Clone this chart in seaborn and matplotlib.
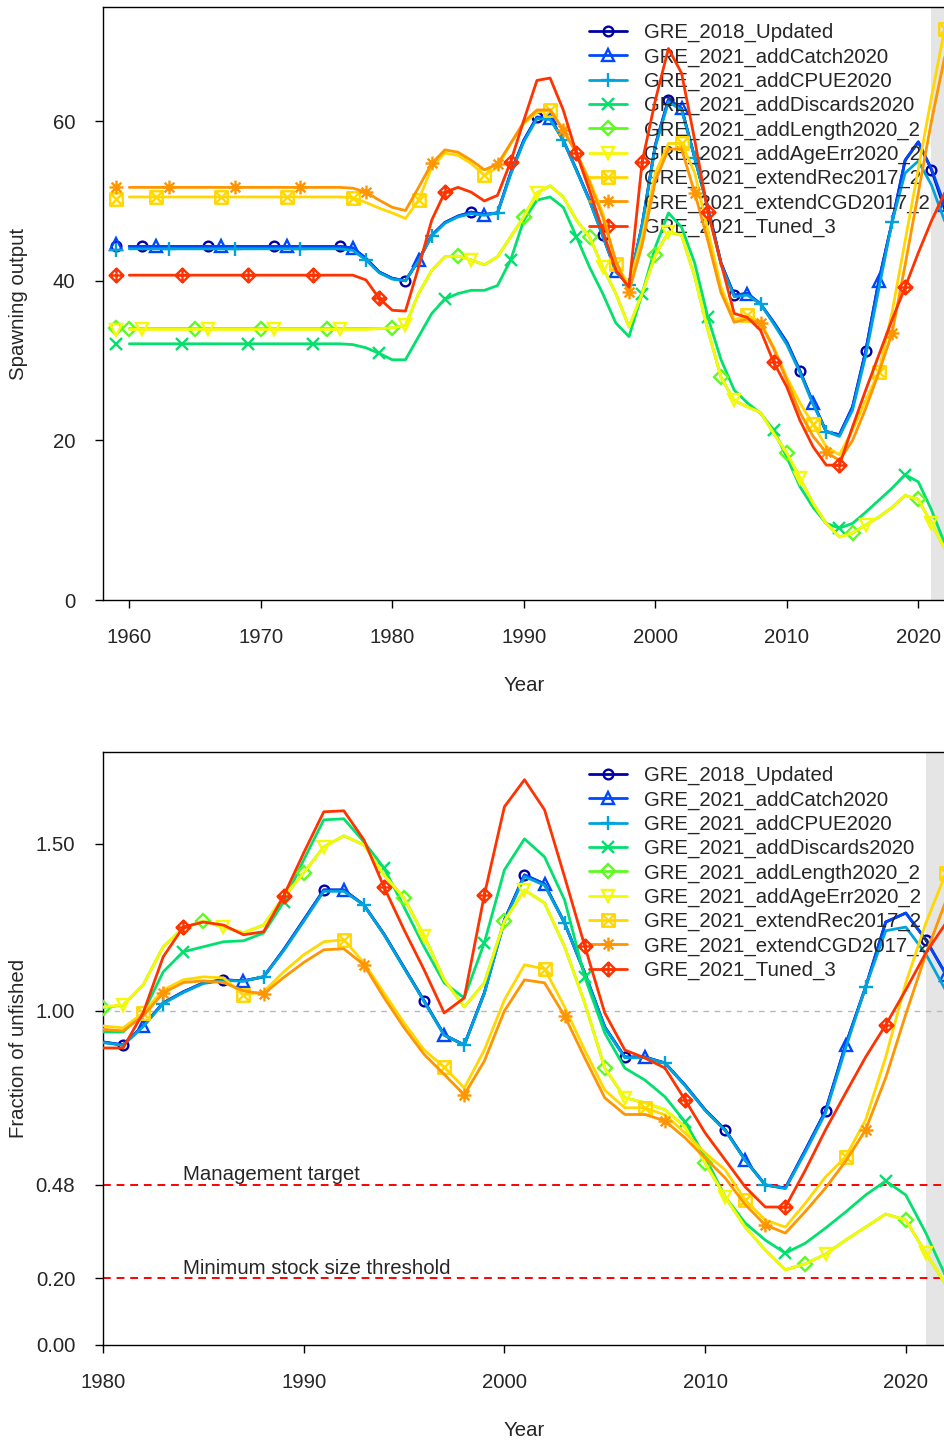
import numpy as np
import pandas as pd
import matplotlib
matplotlib.use("Agg")
import matplotlib.pyplot as plt
from matplotlib.path import Path
import seaborn as sns

models = ["GRE_2018_Updated", "GRE_2021_addCatch2020", "GRE_2021_addCPUE2020",
          "GRE_2021_addDiscards2020", "GRE_2021_addLength2020_2", "GRE_2021_addAgeErr2020_2",
          "GRE_2021_extendRec2017_2", "GRE_2021_extendCGD2017_2", "GRE_2021_Tuned_3"]
# rich.colors.short(10)[-1]
colors = ["#0000A6", "#0049FB", "#00A4DB", "#03E06E", "#5DFC20",
          "#F6F905", "#FFD701", "#FF9500", "#FF3300"]

ssb_years = list(range(1960, 2023))
virgin_year = 1959
ssb_virgin = [44.4, 44.6, 43.9, 32.1, 34.1, 33.8, 50.3, 51.7, 40.7]

ssb_updated = [44.3] * 17 + [
    44.1, 42.8, 41.1, 40.3, 40.0, 42.6, 45.7, 47.3, 48.1, 48.6, 48.3, 48.5, 53.5,
    57.6, 60.5, 60.4, 57.6, 53.9, 50.1, 45.7, 41.2, 39.4, 47.0,
    57.0, 62.7, 61.6, 55.4, 49.2, 42.2, 38.2, 38.4, 37.1, 34.8,
    32.3, 28.7, 24.7, 21.1, 20.7, 24.2, 31.2, 40.0, 47.3, 55.1,
    57.4, 53.9, 49.0]
ssb_addcatch = [44.3] * 17 + [
    44.1, 42.8, 41.1, 40.3, 40.0, 42.6, 45.7, 47.3, 48.1, 48.6, 48.3, 48.5, 53.5,
    57.6, 60.5, 60.4, 57.6, 53.9, 50.1, 45.7, 41.2, 39.4, 47.0,
    57.0, 62.7, 61.6, 55.4, 49.2, 42.2, 38.2, 38.4, 37.1, 34.8,
    32.3, 28.7, 24.7, 21.1, 20.7, 24.2, 31.2, 40.0, 47.3, 55.1,
    57.4, 54.0, 49.5]
ssb_addcpue = [44.0] * 17 + [
    43.8, 42.6, 41.0, 40.2, 40.0, 42.5, 45.6, 47.2, 48.0, 48.4, 48.2, 48.5, 53.3,
    57.4, 60.3, 60.2, 57.6, 53.8, 50.0, 45.6, 41.1, 39.5, 47.0,
    56.8, 62.4, 61.4, 55.4, 49.0, 42.0, 38.0, 38.2, 37.1, 34.6,
    32.0, 28.5, 24.5, 21.1, 20.5, 23.8, 30.6, 39.0, 47.3, 53.5,
    55.0, 52.0, 47.5]
ssb_adddiscards = [32.1] * 17 + [
    32.0, 31.6, 30.9, 30.1, 30.1, 33.0, 35.9, 37.7, 38.4, 38.8, 38.8, 39.4, 42.6,
    47.6, 50.1, 50.5, 49.2, 45.5, 41.7, 38.4, 34.7, 33.0, 38.4,
    44.2, 48.5, 46.7, 42.2, 35.4, 30.1, 26.3, 24.7, 23.4, 21.3,
    17.9, 14.2, 11.6, 9.6, 9.0, 9.6, 11.0, 12.5, 14.0, 15.7,
    14.8, 11.3, 7.1]
# addLength sits under the addAgeErr line in the picture
ssb_addlength = [34.0] * 17 + [
    34.0, 34.0, 34.0, 34.1, 34.4, 38.4, 41.3, 43.0, 43.1, 42.6, 42.0, 43.0, 45.5,
    48.0, 51.0, 51.9, 50.5, 47.6, 45.5, 41.7, 38.4, 34.2, 38.4,
    43.2, 46.1, 45.7, 40.5, 33.8, 27.9, 25.0, 24.2, 23.5, 20.9,
    18.4, 15.3, 12.1, 9.6, 7.9, 8.4, 9.4, 10.4, 11.6, 13.1,
    12.6, 9.6, 6.5]
ssb_addageerr = [33.9] * 17 + [
    33.9, 33.9, 34.0, 34.1, 34.4, 38.4, 41.3, 43.0, 43.1, 42.6, 42.0, 43.0, 45.5,
    48.0, 51.0, 51.9, 50.5, 47.6, 45.5, 41.7, 38.4, 34.2, 38.4,
    43.2, 46.1, 45.7, 40.5, 33.8, 27.9, 25.0, 24.2, 23.5, 20.9,
    18.4, 15.3, 12.1, 9.6, 7.9, 8.4, 9.4, 10.4, 11.6, 13.1,
    12.6, 9.6, 6.5]
ssb_extendrec = [50.5] * 17 + [
    50.4, 49.8, 49.1, 48.5, 47.8, 50.1, 54.2, 56.0, 55.7, 54.7, 53.2, 54.2, 57.2,
    59.7, 61.1, 61.4, 58.9, 56.0, 52.6, 48.5, 42.1, 39.5, 45.5,
    53.5, 57.2, 57.2, 53.5, 46.3, 39.2, 35.1, 35.7, 34.8, 31.7,
    27.9, 24.7, 22.0, 19.2, 18.2, 21.3, 25.0, 28.6, 36.0, 45.0,
    54.0, 63.0, 71.5]
ssb_extendcgd = [51.7] * 17 + [
    51.6, 51.1, 50.1, 49.2, 48.8, 51.7, 54.7, 56.4, 56.1, 55.1, 53.9, 54.6, 57.2,
    59.9, 61.4, 61.4, 58.9, 56.0, 52.3, 48.0, 42.5, 38.6, 44.5,
    52.5, 56.5, 56.5, 51.0, 45.0, 38.5, 34.8, 35.2, 34.7, 31.5,
    27.5, 23.5, 20.5, 18.5, 17.5, 20.0, 24.0, 28.5, 33.4, 42.0,
    51.0, 60.0, 68.0]
ssb_tuned = [40.7] * 17 + [
    40.7, 40.1, 37.8, 36.3, 36.2, 41.7, 47.6, 51.1, 51.7, 51.1, 50.0, 50.7, 54.9,
    60.1, 65.1, 65.4, 61.4, 56.0, 51.3, 46.3, 41.3, 39.2, 54.9,
    62.6, 69.1, 66.0, 57.6, 48.6, 42.2, 35.9, 35.4, 33.8, 29.8,
    26.7, 22.5, 19.2, 16.9, 16.9, 21.7, 26.3, 30.7, 35.1, 39.2,
    43.5, 47.5, 51.0]

bratio_years = list(range(1980, 2023))
br_updated = [0.907, 0.898, 0.955, 1.024, 1.057, 1.084, 1.093, 1.090, 1.102, 1.183,
              1.272, 1.362, 1.362, 1.317, 1.230, 1.130, 1.030, 0.928, 0.898, 1.054,
              1.272, 1.407, 1.380, 1.263, 1.114, 0.952, 0.862, 0.862, 0.844, 0.778,
              0.704, 0.644, 0.554, 0.479, 0.470, 0.584, 0.701, 0.898, 1.072, 1.266,
              1.293, 1.213, 1.110]
br_addcatch = [0.907, 0.898, 0.955, 1.024, 1.057, 1.084, 1.093, 1.090, 1.102, 1.183,
               1.272, 1.362, 1.362, 1.317, 1.230, 1.130, 1.030, 0.928, 0.898, 1.054,
               1.272, 1.407, 1.380, 1.263, 1.114, 0.952, 0.862, 0.862, 0.844, 0.778,
               0.704, 0.644, 0.554, 0.479, 0.470, 0.584, 0.701, 0.898, 1.072, 1.266,
               1.293, 1.213, 1.108]
br_addcpue = [0.905, 0.897, 0.953, 1.022, 1.055, 1.082, 1.091, 1.089, 1.102, 1.180,
              1.268, 1.358, 1.358, 1.317, 1.228, 1.128, 1.028, 0.927, 0.898, 1.052,
              1.268, 1.402, 1.376, 1.263, 1.112, 0.950, 0.860, 0.860, 0.844, 0.776,
              0.702, 0.642, 0.552, 0.479, 0.468, 0.578, 0.694, 0.888, 1.072, 1.240,
              1.251, 1.170, 1.060]
br_adddiscards = [0.937, 0.937, 0.994, 1.117, 1.177, 1.192, 1.207, 1.210, 1.233, 1.326,
                  1.452, 1.572, 1.575, 1.506, 1.428, 1.311, 1.192, 1.084, 1.039, 1.204,
                  1.422, 1.515, 1.461, 1.332, 1.102, 0.934, 0.829, 0.793, 0.743, 0.668,
                  0.563, 0.443, 0.365, 0.314, 0.275, 0.305, 0.350, 0.398, 0.449, 0.491,
                  0.449, 0.335, 0.204]
br_addlength = [1.010, 1.017, 1.078, 1.192, 1.248, 1.269, 1.251, 1.234, 1.257, 1.341,
                1.413, 1.491, 1.524, 1.497, 1.407, 1.338, 1.225, 1.093, 1.012, 1.084,
                1.269, 1.362, 1.323, 1.192, 1.024, 0.829, 0.740, 0.725, 0.704, 0.653,
                0.545, 0.443, 0.353, 0.284, 0.225, 0.243, 0.272, 0.314, 0.353, 0.392,
                0.374, 0.275, 0.180]
br_addageerr = [1.012, 1.018, 1.078, 1.192, 1.248, 1.269, 1.251, 1.234, 1.257, 1.341,
                1.413, 1.491, 1.524, 1.497, 1.407, 1.338, 1.225, 1.093, 1.012, 1.084,
                1.269, 1.362, 1.323, 1.192, 1.024, 0.829, 0.740, 0.725, 0.704, 0.653,
                0.545, 0.443, 0.353, 0.284, 0.225, 0.243, 0.272, 0.314, 0.353, 0.392,
                0.374, 0.275, 0.180]
br_extendrec = [0.955, 0.949, 0.994, 1.063, 1.093, 1.102, 1.099, 1.048, 1.057, 1.117,
                1.168, 1.207, 1.213, 1.144, 1.054, 0.964, 0.883, 0.832, 0.769, 0.883,
                1.033, 1.138, 1.126, 1.012, 0.883, 0.763, 0.710, 0.710, 0.689, 0.635,
                0.575, 0.524, 0.434, 0.374, 0.353, 0.425, 0.503, 0.563, 0.674, 0.862,
                1.084, 1.263, 1.413]
br_extendcgd = [0.945, 0.940, 0.985, 1.054, 1.085, 1.090, 1.085, 1.060, 1.051, 1.100,
                1.145, 1.183, 1.186, 1.138, 1.040, 0.950, 0.870, 0.810, 0.749, 0.850,
                1.000, 1.093, 1.084, 0.985, 0.860, 0.740, 0.690, 0.690, 0.671, 0.620,
                0.560, 0.500, 0.420, 0.359, 0.335, 0.400, 0.470, 0.550, 0.644, 0.800,
                0.990, 1.170, 1.330]
br_tuned = [0.889, 0.889, 0.994, 1.162, 1.251, 1.266, 1.257, 1.228, 1.237, 1.344,
            1.473, 1.596, 1.599, 1.512, 1.371, 1.243, 1.123, 0.994, 1.039, 1.347,
            1.611, 1.692, 1.602, 1.401, 1.195, 0.994, 0.883, 0.859, 0.829, 0.734,
            0.635, 0.554, 0.473, 0.413, 0.413, 0.524, 0.644, 0.754, 0.862, 0.958,
            1.063, 1.174, 1.263]

ssb_all = [ssb_updated, ssb_addcatch, ssb_addcpue, ssb_adddiscards, ssb_addlength,
           ssb_addageerr, ssb_extendrec, ssb_extendcgd, ssb_tuned]
br_all = [br_updated, br_addcatch, br_addcpue, br_adddiscards, br_addlength,
          br_addageerr, br_extendrec, br_extendcgd, br_tuned]

ssb_df = pd.concat([pd.DataFrame({"model": m, "year": ssb_years, "value": v})
                    for m, v in zip(models, ssb_all)])
br_df = pd.concat([pd.DataFrame({"model": m, "year": bratio_years, "value": v})
                   for m, v in zip(models, br_all)])

# R pch 1..9
M, L, C = Path.MOVETO, Path.LINETO, Path.CLOSEPOLY
box_x = Path([(-1, -1), (1, -1), (1, 1), (-1, 1), (-1, -1), (-1, -1), (1, 1), (-1, 1), (1, -1)],
             [M, L, L, L, C, M, L, M, L])
star8 = Path([(-1, 0), (1, 0), (0, -1), (0, 1), (-.7, -.7), (.7, .7), (-.7, .7), (.7, -.7)],
             [M, L, M, L, M, L, M, L])
diam_plus = Path([(0, -1), (1, 0), (0, 1), (-1, 0), (0, -1), (0, -1), (0, 1), (-1, 0), (1, 0)],
                 [M, L, L, L, C, M, L, M, L])
markers = ["o", "^", "+", "x", "D", "v", box_x, star8, diam_plus]
msizes = [7, 8.5, 10, 8, 7.5, 8.5, 9, 10, 10]

sns.set_style("ticks")
plt.rcParams["font.family"] = ["Liberation Sans", "DejaVu Sans"]
plt.rcParams["font.size"] = 14.7

fig = plt.figure(figsize=(9.44, 14.46), dpi=100)
W, H = 944, 1446
ax1 = fig.add_axes([103 / W, 1 - 600 / H, 843 / W, 593 / H])
ax2 = fig.add_axes([103 / W, 1 - 1345 / H, 843 / W, 593 / H])


def draw(ax, df, years):
    ax.axvspan(2021, 2030, color="black", alpha=0.1, lw=0, zorder=0)
    for i, name in enumerate(models):
        d = df[df.model == name]
        every = [k for k, yr in enumerate(years) if yr % 5 == (i + 1) % 5]
        sns.lineplot(data=d, x="year", y="value", ax=ax, color=colors[i], lw=2,
                     marker=markers[i], markevery=every, ms=msizes[i],
                     mfc="none", markeredgecolor=colors[i], markeredgewidth=1.7,
                     label=name, errorbar=None, zorder=3 + i)
    handles = ax.get_lines()[-len(models):]
    return handles


h1 = draw(ax1, ssb_df, ssb_years)
for i in range(len(models)):
    sns.lineplot(x=[virgin_year], y=[ssb_virgin[i]], ax=ax1, color=colors[i],
                 marker=markers[i], ms=msizes[i], mfc="none", markeredgecolor=colors[i],
                 markeredgewidth=1.7, errorbar=None, zorder=3 + i)
h2 = draw(ax2, br_df, bratio_years)

# reference lines on the fraction-unfished panel
ax2.axhline(1.0, color="#b8b8b8", lw=1, ls=(0, (4, 4)), zorder=1)
for lvl, txt in [(0.48, "Management target"), (0.20, "Minimum stock size threshold")]:
    ax2.axhline(lvl, color="red", lw=1.4, ls=(0, (4, 3)), zorder=2)
    ax2.text(1984, lvl + 0.03, txt, ha="left", va="center", fontsize=14.7)

ax1.set_xlim(1958, 1958 + 843 / 13.15)
ax1.set_ylim(0, 74.3)
ax1.set_xticks(range(1960, 2021, 10))
ax1.set_yticks([0, 20, 40, 60])
ax2.set_xlim(1980, 1980 + 843 / 20.07)
ax2.set_ylim(0, 1.775)
ax2.set_xticks(range(1980, 2021, 10))
yt = [0.0, 0.2, 0.48, 1.0, 1.5]
ax2.set_yticks(yt)
ax2.set_yticklabels([f"{v:.2f}" for v in yt])

for ax, lab, hs, top in [(ax1, "Spawning output", h1, 23), (ax2, "Fraction of unfished", h2, 766)]:
    for s in ax.spines.values():
        s.set_color("black")
        s.set_linewidth(1)
    ax.tick_params(direction="out", length=6, width=1, color="black", labelsize=14.7, pad=14)
    ax.set_xlabel("Year", fontsize=14.7)
    ax.set_ylabel(lab, fontsize=14.7)
    ax.xaxis.set_label_coords(0.5, -0.145)
    ax.xaxis.label.set_va("center")
    ax.yaxis.set_label_coords(-0.1, 0.5)
    ax.yaxis.label.set_va("center")
    ax.legend(handles=hs, labels=models, loc="upper left",
              bbox_to_anchor=(589 / W, 1 - top / H), bbox_transform=fig.transFigure,
              frameon=False, borderpad=0, borderaxespad=0, handlelength=1.86,
              handletextpad=0.85, labelspacing=0.25, numpoints=1, fontsize=14.7)

fig.savefig("out.png", dpi=100)
